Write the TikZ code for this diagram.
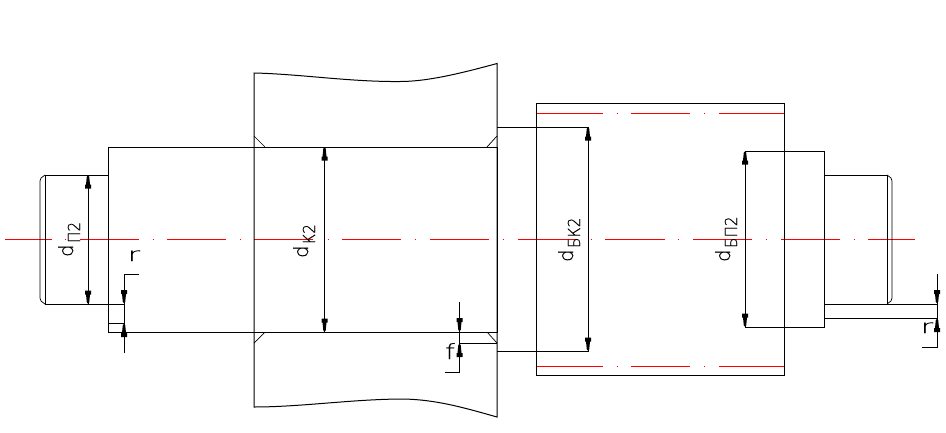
\documentclass[tikz,border=0pt]{standalone}
\usepackage{fontspec}
\setmainfont{DejaVu Sans ExtraLight}[FakeBold=0.25]
\usetikzlibrary{arrows.meta}
\newcommand{\dimsub}[1]{\kern1.5pt\raisebox{-7pt}{\scalebox{0.92}[1]{\fontsize{16.5}{16.5}\selectfont #1}}}
\tikzset{
  part/.style={draw=black,line width=1pt,line cap=rect},
  thin part/.style={draw=black,line width=0.7pt},
  axisline/.style={draw=red,line width=0.9pt},
  dimline/.style={draw=black,line width=1pt},
  dimtip/.pic={\fill[black] (0,0)--(1.2,1)--(2,9)--(3,9)--(3,13)--(-3,13)--(-3,9)--(-2,9)--(-1.2,1)--cycle;},
  dimlabel/.style={rotate=90,inner sep=0pt,anchor=base west,font=\fontsize{19.5}{19.5}\selectfont},
  smalllabel/.style={inner sep=0pt,anchor=base west,font=\fontsize{19}{19}\selectfont}
}
\begin{document}
\begin{tikzpicture}[x=1pt,y=-1pt]
\useasboundingbox[fill=white] (0,0) rectangle (946,432);
% axes
\foreach \a/\b in {5/52,80/139,167/226,254/313,342/401,430/489,518/577,605/665,693/752,781/840,868/915}
  \draw[axisline] (\a,239)--(\b,239);
\foreach \a in {65,153,240,328,415,503,591,678,766,854}
  \draw[axisline] (\a-0.5,239)--(\a+0.5,239);
\foreach \y in {113,366.5}{
  \foreach \a/\b in {536.5/603,631/690,719/784} \draw[axisline] (\a,\y)--(\b,\y);
  \foreach \a in {617,704} \draw[axisline] (\a-0.5,\y)--(\a+0.5,\y);
}
% shaft
\draw[part] (108,147) rectangle (497,332);
\draw[part] (108,175) -- (45,175) -- (45,304) -- (124,304);
\draw[part] (108,323) -- (124,323);
\draw[thin part] (45,175) -- (41,178) -- (40,181) -- (40,298) -- (41,301) -- (45,304);
% hub
\draw[part] (254,147) -- (254,73) .. controls (300,74) and (350,82) .. (400,81.5)
  .. controls (425,81.5) and (455,75) .. (497,63.5) -- (497,417)
  .. controls (465,408) and (435,399) .. (400,399) .. controls (350,399.5) and (300,407) .. (254,407) -- (254,147);
\draw[thin part] (254,136)--(265,147) (497,136)--(487,147) (254,343)--(265,332) (497,343)--(487,332);
% bearing box
\draw[part] (536.5,103) rectangle (784,375);
\draw[part] (497,127) -- (588,127) -- (588,351) -- (497,351);
\draw[part] (824,151) -- (745,151) -- (745,327) -- (824,327) -- cycle;
\draw[part] (824,175) -- (887,175) -- (887,304);
\draw[part] (824,304) -- (937,304);
\draw[part] (824,318) -- (937,318);
\draw[thin part] (887,175) -- (891,178) -- (892,181) -- (892,298) -- (891,301) -- (887,304);
% dimension lines
\draw[dimline] (88,175)--(88,304);
\draw[dimline] (324.5,147)--(324.5,332);
\draw[dimline] (139,274)--(124,274)--(124,353);
\draw[dimline] (459.5,302)--(459.5,372)--(445,372);
\draw[dimline] (460,343)--(497,343);
\draw[dimline] (937,274)--(937,347)--(922,347);
% arrow heads
\foreach \x/\y/\r in {88/175.5/0,88/303.5/180,324.5/147.5/0,324.5/331.5/180,588/127.5/0,588/350.5/180,745/151.5/0,745/326.5/180,
  124/303/180,124/324/0,459.5/331/180,459.5/344/0,937/303/180,937/319/0}
  \pic[rotate=\r] at (\x,\y) {dimtip};
% labels
\node[dimlabel] (dp) at (73,257) {d\dimsub{П2}};
\node[dimlabel] (dk) at (308,258) {d\dimsub{К2}};
\node[dimlabel] (dbk) at (573,262) {d\dimsub{БК2}};
\node[dimlabel] (dbp) at (730,262) {d\dimsub{БП2}};
\node[smalllabel] (r1) at (127.5,261) {\scalebox{1.6}[1]{r}};
\node[smalllabel] (r2) at (920.5,333) {\scalebox{1.6}[1]{r}};
\node[smalllabel,font=\fontsize{21}{21}\selectfont] (f) at (445,359) {\scalebox{1.3}[1]{f}};
\end{tikzpicture}
\end{document}
